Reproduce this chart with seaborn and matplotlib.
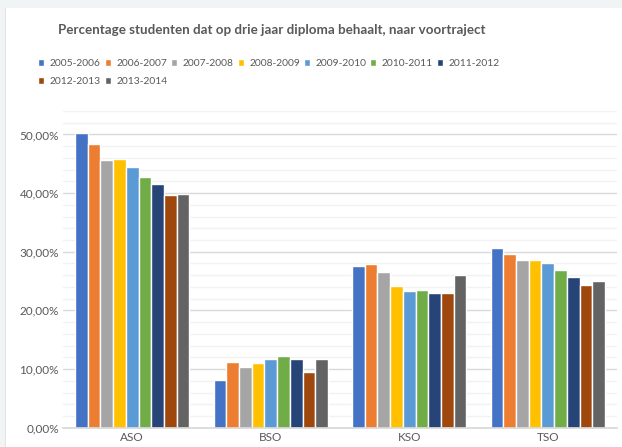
import pandas as pd
import numpy as np
import matplotlib.pyplot as plt
import matplotlib.ticker as mticker
from matplotlib.patches import Rectangle
import seaborn as sns

# data
voortraject = ["ASO", "BSO", "KSO", "TSO"]
jaren = ["2005-2006", "2006-2007", "2007-2008", "2008-2009", "2009-2010",
         "2010-2011", "2011-2012", "2012-2013", "2013-2014"]
aso = [0.503, 0.483, 0.456, 0.459, 0.444, 0.427, 0.416, 0.396, 0.398]
bso = [0.081, 0.112, 0.103, 0.110, 0.117, 0.122, 0.117, 0.095, 0.117]
kso = [0.275, 0.279, 0.265, 0.241, 0.233, 0.235, 0.230, 0.230, 0.260]
tso = [0.306, 0.296, 0.286, 0.286, 0.281, 0.269, 0.257, 0.243, 0.250]
kleuren = ["#4472C4", "#ED7D31", "#A5A5A5", "#FFC000", "#5B9BD5",
           "#70AD47", "#264478", "#9E480E", "#636363"]

rows = []
for cat, vals in zip(voortraject, [aso, bso, kso, tso]):
    for jaar, v in zip(jaren, vals):
        rows.append({"voortraject": cat, "jaar": jaar, "pct": v})
df = pd.DataFrame(rows)

sns.set_theme(style="white")
plt.rcParams['font.family'] = ['Lato', 'DejaVu Sans']
txt_col = "#595959"

fig = plt.figure(figsize=(6.22, 4.47), dpi=100)
fig.patch.set_facecolor("#f1f4f5")
# white chart area with thin border on the left
fig.patches.append(Rectangle((5 / 622, 0), 1, 1 - 8 / 447, transform=fig.transFigure,
                             facecolor="white", edgecolor="none", zorder=-10))
fig.patches.append(Rectangle((5 / 622, 0), 1.2 / 622, 1 - 8 / 447, transform=fig.transFigure,
                             facecolor="#e2e4e5", edgecolor="none", zorder=-10))

ax = fig.add_axes([63 / 622, 1 - 427.7 / 447, 554 / 622, (427.7 - 111) / 447])
ax.set_facecolor("none")

sns.barplot(data=df, x="voortraject", y="pct", hue="jaar", palette=kleuren,
            width=0.826, saturation=1, ax=ax, legend=True)

ax.set_ylim(0, 0.54)
ax.set_xlim(-0.5, 3.5)
ax.yaxis.set_major_locator(mticker.MultipleLocator(0.1))
ax.yaxis.set_minor_locator(mticker.MultipleLocator(0.02))
ax.yaxis.set_major_formatter(mticker.FuncFormatter(lambda v, p: f"{v*100:.2f}%".replace(".", ",")))
ax.grid(which="major", axis="y", color="#d9d9d9", linewidth=1.0)
ax.grid(which="minor", axis="y", color="#f2f2f2", linewidth=1.0)
ax.set_axisbelow(True)
for s in ["top", "right", "left"]:
    ax.spines[s].set_visible(False)
ax.spines["bottom"].set_color("#d9d9d9")
ax.tick_params(axis="both", which="both", length=0, labelsize=8.5, colors=txt_col)
ax.tick_params(axis="y", pad=3)
ax.tick_params(axis="x", pad=3)
ax.set_xlabel("")
ax.set_ylabel("")

# legend in rows, like the original
handles, labels = ax.get_legend_handles_labels()
ax.get_legend().remove()
order = [0, 7, 1, 8, 2, 3, 4, 5, 6]
fig.legend([handles[i] for i in order], [labels[i] for i in order], ncol=7,
           loc="upper left", bbox_to_anchor=(33 / 622, 1 - 54 / 447), frameon=False,
           fontsize=7.4, labelcolor=txt_col, handlelength=0.6, handleheight=0.6,
           handletextpad=0.55, columnspacing=0.35, labelspacing=0.85, borderpad=0)

fig.text(272 / 622, 1 - 30 / 447, "Percentage studenten dat op drie jaar diploma behaalt, naar voortraject",
         ha="center", va="center", fontsize=9.6, fontweight="bold", color=txt_col)

fig.savefig("out.png", dpi=100, facecolor=fig.get_facecolor())
